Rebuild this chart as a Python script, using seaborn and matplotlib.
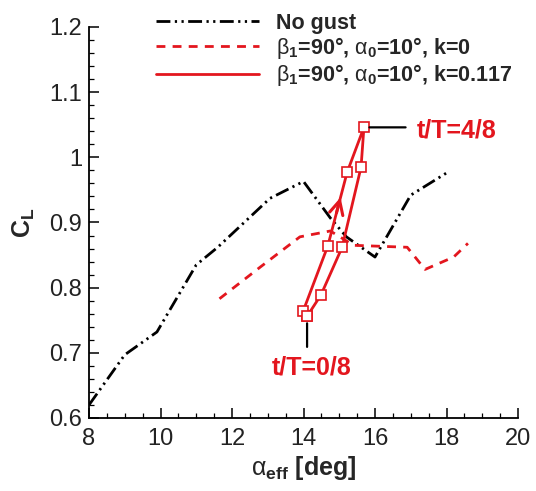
import numpy as np
import pandas as pd
import matplotlib
matplotlib.use("Agg")
import matplotlib.pyplot as plt
import seaborn as sns
from matplotlib.ticker import MultipleLocator, FuncFormatter
from matplotlib.lines import Line2D

# ---- data ----
nogust_alpha = [8.0, 9.0, 9.9, 11.0, 11.6, 13.06, 14.0, 14.75, 15.2, 16.0, 17.0, 18.0]
nogust_cl    = [0.62, 0.697, 0.732, 0.835, 0.862, 0.937, 0.963, 0.907, 0.878, 0.847, 0.942, 0.976]

k0_alpha = [11.65, 12.8, 13.9, 14.75, 15.4, 16.9, 17.4, 18.2, 18.6]
k0_cl    = [0.783, 0.832, 0.878, 0.887, 0.865, 0.862, 0.828, 0.847, 0.868]

# t/T = 0/8 ... 8/8
loop_alpha = [14.1, 13.99, 14.68, 15.22, 15.69, 15.61, 15.08, 14.49, 14.1]
loop_cl    = [0.756, 0.764, 0.864, 0.977, 1.046, 0.985, 0.862, 0.789, 0.756]

labels = ["No gust",
          r"$\mathrm{\beta}_\mathbf{1}$=90°, $\mathrm{\alpha}_\mathbf{0}$=10°, k=0",
          r"$\mathrm{\beta}_\mathbf{1}$=90°, $\mathrm{\alpha}_\mathbf{0}$=10°, k=0.117"]
xticks = [8, 10, 12, 14, 16, 18, 20]
yticks = [0.6, 0.7, 0.8, 0.9, 1.0, 1.1, 1.2]

RED = "#e3161e"

sns.set_style("ticks")
plt.rcParams["font.family"] = ["Liberation Sans", "DejaVu Sans"]
plt.rcParams["mathtext.fontset"] = "custom"
plt.rcParams["mathtext.rm"] = "Liberation Sans"
plt.rcParams["mathtext.it"] = "Liberation Sans:italic"
plt.rcParams["mathtext.bf"] = "Liberation Sans:bold"

fig = plt.figure(figsize=(5.36, 4.91), dpi=100)
ax = fig.add_axes([89/536, 1 - 418/491, (518-89)/536, (418-27)/491])

df_ng = pd.DataFrame({"a": nogust_alpha, "cl": nogust_cl})
df_k0 = pd.DataFrame({"a": k0_alpha, "cl": k0_cl})
df_lp = pd.DataFrame({"a": loop_alpha, "cl": loop_cl})

sns.lineplot(data=df_ng, x="a", y="cl", sort=False, estimator=None, color="black",
             lw=2.0, ax=ax)
l_ng = ax.lines[-1]
l_ng.set_dashes((5, 1.6, 0.8, 1.6, 0.8, 1.6))

sns.lineplot(data=df_k0, x="a", y="cl", sort=False, estimator=None, color=RED,
             lw=2.0, ax=ax)
l_k0 = ax.lines[-1]
l_k0.set_dashes((3.2, 2.6))

sns.lineplot(data=df_lp, x="a", y="cl", sort=False, estimator=None, color=RED,
             lw=2.0, marker="s", markersize=7, markerfacecolor="white",
             markeredgecolor=RED, markeredgewidth=1.2, ax=ax)

# arrow on the ascending branch
p2 = np.array([loop_alpha[2], loop_cl[2]])
p3 = np.array([loop_alpha[3], loop_cl[3]])
tail = p2 + 0.45 * (p3 - p2)
head = p2 + 0.66 * (p3 - p2)
ax.annotate("", xy=head, xytext=tail,
            arrowprops=dict(arrowstyle="->,head_length=0.7,head_width=0.35", color=RED, lw=2.2,
                            shrinkA=0, shrinkB=0, mutation_scale=14))

# t/T labels
top = (loop_alpha[4], loop_cl[4])
ax.annotate("", xy=top, xytext=(30, 0), textcoords="offset points",
            arrowprops=dict(arrowstyle="-", color="black", lw=1.6, shrinkA=0, shrinkB=4))
ax.annotate("t/T=4/8", xy=top, xytext=(38, -2), textcoords="offset points",
            ha="left", va="center", color=RED, fontsize=18, fontweight="bold")
bot = (loop_alpha[0], loop_cl[0])
ax.annotate("", xy=(bot[0], bot[1]), xytext=(0, -22), textcoords="offset points",
            arrowprops=dict(arrowstyle="-", color="black", lw=1.6, shrinkA=0, shrinkB=5))
ax.annotate("t/T=0/8", xy=bot, xytext=(3, -37), textcoords="offset points",
            ha="center", va="center", color=RED, fontsize=18, fontweight="bold")

# axes styling
ax.set_xlim(8, 20)
ax.set_ylim(0.6, 1.2)
ax.set_xticks(xticks)
ax.set_yticks(yticks)
ax.xaxis.set_minor_locator(MultipleLocator(0.5))
ax.yaxis.set_minor_locator(MultipleLocator(0.02))
ax.yaxis.set_major_formatter(FuncFormatter(lambda v, p: f"{v:g}"))
ax.xaxis.set_major_formatter(FuncFormatter(lambda v, p: f"{v:g}"))
ax.tick_params(which="major", direction="in", length=7, width=1.1, labelsize=17, color="black",
               labelcolor="#222222")
ax.tick_params(which="minor", direction="in", length=3.5, width=0.9, color="black")
ax.tick_params(axis="x", pad=7)
ax.tick_params(axis="y", pad=5)
for s in ["top", "right"]:
    ax.spines[s].set_visible(False)
for s in ["left", "bottom"]:
    ax.spines[s].set_linewidth(1.3)
    ax.spines[s].set_color("black")

ax.set_xlabel(r"$\mathrm{\alpha}_\mathbf{eff}$ [deg]", fontsize=18, fontweight="bold", labelpad=3)
ax.set_ylabel(r"C$_\mathbf{L}$", fontsize=18, fontweight="bold", labelpad=9)

# legend
handles = [
    Line2D([], [], color="black", lw=2.0, dashes=(5, 1.6, 0.8, 1.6, 0.8, 1.6)),
    Line2D([], [], color=RED, lw=2.0, dashes=(3.2, 2.6)),
    Line2D([], [], color=RED, lw=2.0),
]
leg = fig.legend(handles, labels, loc="upper left", bbox_to_anchor=(143/536, 1.0),
                 frameon=False, handlelength=4.8, handletextpad=0.8, labelspacing=0.05,
                 borderaxespad=0.2, prop={"size": 15.5, "weight": "bold"})

fig.savefig("out.png", dpi=100)
